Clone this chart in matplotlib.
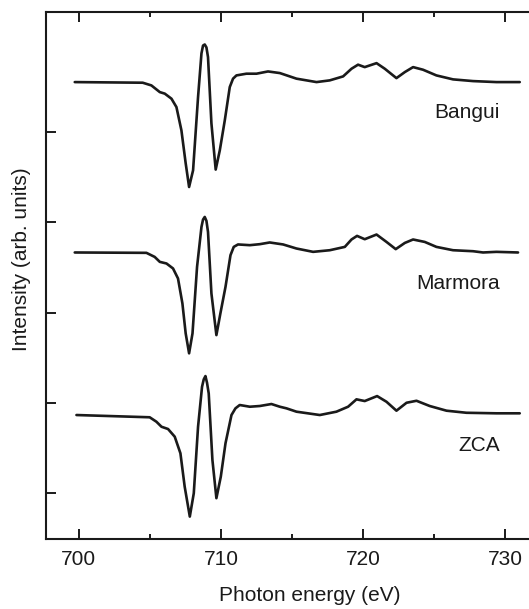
import matplotlib
matplotlib.use("Agg")
import matplotlib.pyplot as plt
from matplotlib.ticker import MultipleLocator

plt.rcParams['font.family'] = ['Liberation Sans', 'DejaVu Sans']

# XMCD spectra at the Fe L2,3 edge (relative to each pre-edge baseline)
bangui_e = [699.72, 704.50, 705.11, 705.70, 706.05, 706.52, 706.87, 707.22, 707.52, 707.76,
            708.04, 708.39, 708.63, 708.74, 708.86, 708.98, 709.09, 709.33, 709.63, 709.92,
            710.27, 710.62, 710.85, 711.09, 711.79, 712.50, 713.31, 714.14, 715.31, 716.72,
            717.65, 718.59, 719.18, 719.64, 720.11, 720.94, 721.52, 722.34, 722.93, 723.51,
            724.21, 725.15, 726.32, 727.73, 729.37, 731.01]
bangui_i = [0.0, -0.007, -0.037, -0.111, -0.128, -0.184, -0.277, -0.535, -0.900, -1.163,
            -0.978, -0.166, 0.318, 0.405, 0.417, 0.384, 0.277, -0.457, -0.970, -0.756,
            -0.424, -0.055, 0.038, 0.074, 0.093, 0.093, 0.118, 0.100, 0.038, 0.0,
            0.019, 0.063, 0.148, 0.193, 0.166, 0.210, 0.148, 0.044, 0.111, 0.166,
            0.137, 0.074, 0.030, 0.011, 0.0, 0.0]

marmora_e = [699.72, 704.76, 705.34, 705.70, 706.17, 706.63, 706.98, 707.29, 707.52, 707.76,
             708.00, 708.32, 708.63, 708.74, 708.86, 708.98, 709.09, 709.33, 709.68, 709.96,
             710.32, 710.67, 710.90, 711.20, 712.03, 712.73, 713.43, 714.37, 715.31, 716.48,
             717.65, 718.71, 719.18, 719.57, 720.11, 720.94, 721.64, 722.29, 722.93, 723.51,
             724.33, 725.15, 726.32, 727.73, 728.43, 729.37, 730.89]
marmora_i = [0.0, -0.004, -0.049, -0.104, -0.122, -0.177, -0.288, -0.565, -0.897, -1.118,
             -0.897, -0.159, 0.283, 0.365, 0.394, 0.350, 0.228, -0.454, -0.916, -0.676,
             -0.381, -0.030, 0.062, 0.089, 0.081, 0.092, 0.111, 0.089, 0.044, 0.007,
             0.025, 0.062, 0.144, 0.184, 0.147, 0.199, 0.117, 0.037, 0.106, 0.144,
             0.117, 0.062, 0.025, 0.014, 0.0, 0.007, 0.0]

zca_e = [699.84, 704.99, 705.46, 705.82, 706.28, 706.75, 707.15, 707.45, 707.81, 708.09,
         708.39, 708.67, 708.79, 708.91, 709.02, 709.14, 709.40, 709.68, 709.99, 710.32,
         710.74, 711.02, 711.32, 712.03, 712.73, 713.55, 714.14, 714.61, 715.31, 716.95,
         718.12, 718.94, 719.53, 720.11, 720.98, 721.64, 722.34, 723.05, 723.75, 724.68,
         725.86, 727.26, 729.37, 731.01]
zca_i = [0.0, -0.025, -0.074, -0.130, -0.155, -0.240, -0.424, -0.794, -1.126, -0.867,
         -0.130, 0.313, 0.395, 0.432, 0.358, 0.240, -0.498, -0.922, -0.683, -0.313,
         0.0, 0.074, 0.111, 0.092, 0.100, 0.122, 0.092, 0.074, 0.037, 0.0,
         0.037, 0.092, 0.174, 0.155, 0.210, 0.147, 0.048, 0.136, 0.158, 0.100,
         0.048, 0.025, 0.019, 0.019]

samples = ["Bangui", "Marmora", "ZCA"]
offsets = [5.555, 3.666, 1.864]

fig = plt.figure(figsize=(5.29, 6.09), dpi=100)
ax = fig.add_axes([0.087, 0.115, 0.949, 0.865])

curves = [(bangui_e, bangui_i), (marmora_e, marmora_i), (zca_e, zca_i)]
for (e, i), name, off in zip(curves, samples, offsets):
    ax.plot(e, [v + off for v in i], color="#1a1a1a", lw=1.9,
            solid_joinstyle="round", solid_capstyle="round")
    ax.text(729.6, off - 0.34, name, ha="right", va="center", fontsize=15, color="#1a1a1a")

ax.set_xlim(697.7, 733.0)
ax.set_ylim(0.49, 6.33)
ax.xaxis.set_major_locator(MultipleLocator(10))
ax.xaxis.set_minor_locator(MultipleLocator(5))
ax.set_yticks([1, 2, 3, 4, 5])
ax.set_yticklabels([])
ax.tick_params(which="both", direction="in", top=True, width=1.4, color="#1a1a1a")
ax.tick_params(which="major", length=7)
ax.tick_params(which="minor", length=3.6)
ax.tick_params(axis="x", labelsize=15, pad=8, labelcolor="#1a1a1a")
for s in ax.spines.values():
    s.set_linewidth(1.5)
    s.set_color("#1a1a1a")

ax.set_xlabel("Photon energy (eV)", fontsize=15, color="#1a1a1a")
ax.set_ylabel("Intensity (arb. units)", fontsize=15, color="#1a1a1a")
ax.xaxis.set_label_coords(0.526, -0.090)
ax.yaxis.set_label_coords(-0.030, 0.531)

fig.savefig("out.png", dpi=100)
